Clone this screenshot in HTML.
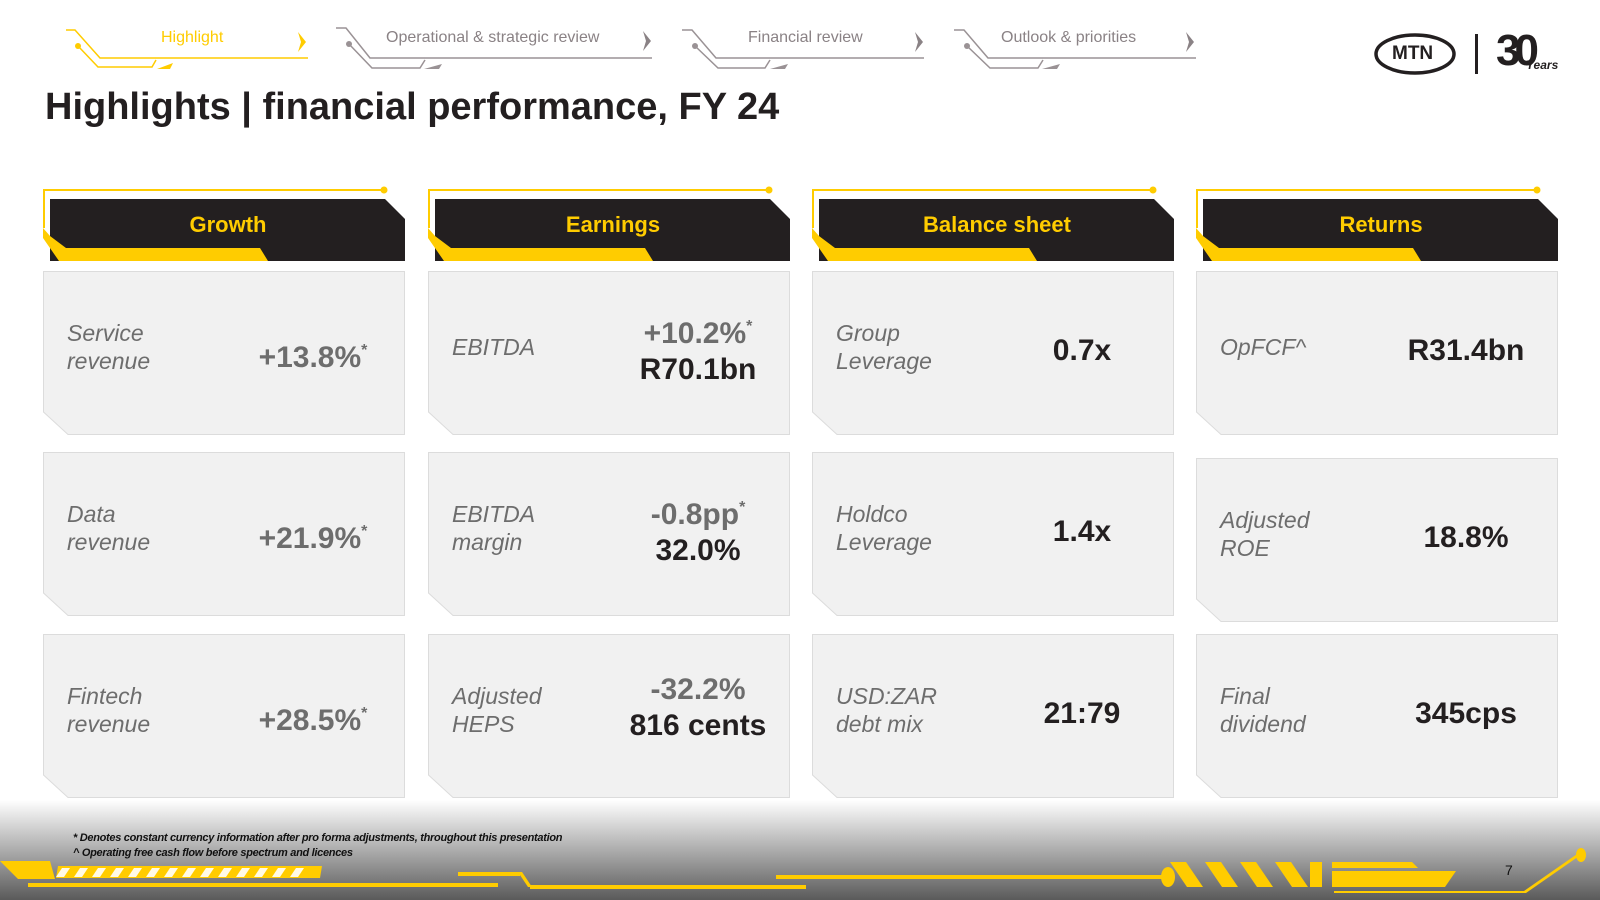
<!DOCTYPE html>
<html><head><meta charset="utf-8">
<style>
*{margin:0;padding:0;box-sizing:border-box}
body{width:1600px;height:900px;overflow:hidden;background:#fff;font-family:"Liberation Sans",sans-serif;position:relative}
.abs{position:absolute}
.title{left:45px;top:86px;font-size:38px;font-weight:bold;color:#231f20;white-space:nowrap}
.nav{font-size:16px;color:#8a8285;white-space:nowrap}
.hdr{font-size:22px;font-weight:bold;color:#ffcc00;text-align:center;width:330px}
.card{position:absolute;width:362px;height:164px}
.card svg{position:absolute;left:0;top:0}
.lbl{position:absolute;left:24px;font-size:23px;font-style:italic;color:#6d6d6d;line-height:28px}
.val{position:absolute;left:190px;width:160px;text-align:center;font-size:30px;font-weight:bold;line-height:36px;color:#231f20;white-space:nowrap}
.g{color:#6d6d6d}
sup{font-size:16px;vertical-align:12px}
.fn{left:73px;font-size:11px;font-style:italic;font-weight:bold;color:#111;letter-spacing:-0.3px;white-space:nowrap}
</style></head><body>
<svg class="abs" style="left:0;top:0" width="1600" height="900">
<defs><linearGradient id="fg" x1="0" y1="0" x2="0" y2="1"><stop offset="0" stop-color="#fff"/><stop offset="1" stop-color="#5a5a5a"/></linearGradient></defs>
<rect x="0" y="800" width="1600" height="100" fill="url(#fg)"/>
<g fill="none" stroke-width="1.5">
<g stroke="#ffcc00"><polyline points="66,30 75,30 100,58 308,58"/><polyline points="78,46 98,67 152,67 156,60"/></g>
<g stroke="#9a9295"><polyline points="336,28 346,28 370,58 652,58"/><polyline points="349,44 372,68 420,68 425,60"/></g>
<g stroke="#9a9295"><polyline points="682,30 692,30 716,58 924,58"/><polyline points="695,46 718,68 765,68 770,60"/></g>
<g stroke="#9a9295"><polyline points="954,30 964,30 988,58 1196,58"/><polyline points="967,46 990,68 1038,68 1043,60"/></g>
</g>
<circle cx="78" cy="46" r="3" fill="#ffcc00"/><circle cx="349" cy="44" r="3" fill="#9a9295"/><circle cx="695" cy="46" r="3" fill="#9a9295"/><circle cx="967" cy="46" r="3" fill="#9a9295"/>
<polygon points="157,69 173,63 170,69 154,69" fill="#ffcc00"/>
<polygon points="424,69 442,64 439,69 421,69" fill="#9a9295"/>
<polygon points="770,69 788,64 785,69 767,69" fill="#9a9295"/>
<polygon points="1042,69 1060,64 1057,69 1039,69" fill="#9a9295"/>
<polygon points="298,32 306,42 298,52 301,42" fill="#ffcc00"/>
<polygon points="643,31 651,41 643,51 646,41" fill="#8a8285"/>
<polygon points="915,32 923,42 915,52 918,42" fill="#8a8285"/>
<polygon points="1186,32 1194,42 1186,52 1189,42" fill="#8a8285"/>
<ellipse cx="1415" cy="54" rx="39" ry="19" fill="none" stroke="#231f20" stroke-width="3.5"/>
<rect x="1475" y="34" width="3" height="40" fill="#231f20"/>
<g fill="#ffcc00">
<polygon points="0,861 50,861 55,879 18,879"/>
<polygon points="58,866 322,866 320,878 56,878"/>
<rect x="28" y="883" width="470" height="4"/>
<rect x="458" y="872" width="62" height="4"/>
<polygon points="518,872 522,872 532,887 528,887"/>
<rect x="530" y="885" width="276" height="4"/>
<rect x="776" y="875" width="392" height="4"/>
<ellipse cx="1168" cy="877" rx="7" ry="10"/>
<polygon points="1170,862 1186,862 1203,887 1187,887"/>
<polygon points="1205,862 1221,862 1238,887 1222,887"/>
<polygon points="1240,862 1256,862 1273,887 1257,887"/>
<polygon points="1275,862 1291,862 1308,887 1292,887"/>
<rect x="1310" y="862" width="12" height="25"/>
<polygon points="1332,862 1412,862 1418,868 1332,868"/>
<polygon points="1332,871 1456,871 1445,887 1332,887"/>
<polygon points="1334,891 1524,891 1580,852 1582,854 1526,893 1334,893"/>
<ellipse cx="1581" cy="855" rx="5" ry="7"/>
</g>
<g fill="#fff" opacity="0.9">
<polygon points="62,868 70,868 64,877 56,877"/><polygon points="80,868 88,868 82,877 74,877"/><polygon points="98,868 106,868 100,877 92,877"/><polygon points="116,868 124,868 118,877 110,877"/><polygon points="134,868 142,868 136,877 128,877"/><polygon points="152,868 160,868 154,877 146,877"/><polygon points="170,868 178,868 172,877 164,877"/><polygon points="188,868 196,868 190,877 182,877"/><polygon points="206,868 214,868 208,877 200,877"/><polygon points="224,868 232,868 226,877 218,877"/><polygon points="242,868 250,868 244,877 236,877"/><polygon points="260,868 268,868 262,877 254,877"/><polygon points="278,868 286,868 280,877 272,877"/><polygon points="296,868 304,868 298,877 290,877"/>
</g>
</svg>

<div class="abs nav" style="left:161px;top:29px;color:#ffcc00">Highlight</div>
<div class="abs nav" style="left:386px;top:29px">Operational &amp; strategic review</div>
<div class="abs nav" style="left:748px;top:29px">Financial review</div>
<div class="abs nav" style="left:1001px;top:29px">Outlook &amp; priorities</div>
<div class="abs" style="left:1392px;top:43px;font-size:19px;font-weight:bold;color:#231f20">MTN</div>
<div class="abs" style="left:1496px;top:26px;font-size:44px;font-weight:bold;color:#231f20;letter-spacing:-6px;line-height:50px">30</div>
<div class="abs" style="left:1526px;top:58px;font-size:12px;font-weight:bold;font-style:italic;color:#231f20">Years</div>

<div class="abs title">Highlights | financial performance, FY 24</div>

<div id="grid"></div>

<div class="abs fn" style="top:832px">* Denotes constant currency information after pro forma adjustments, throughout this presentation</div>
<div class="abs fn" style="top:847px">^ Operating free cash flow before spectrum and licences</div>
<div class="abs" style="left:1505px;top:862px;font-size:14px;color:#111">7</div>

<script>
const colX=[43,428,812,1196];
const headers=["Growth","Earnings","Balance sheet","Returns"];
const rowY=[[271,452,634],[271,452,634],[271,452,634],[271,458,634]];
const labels=[
 ["Service<br>revenue","Data<br>revenue","Fintech<br>revenue"],
 ["EBITDA","EBITDA<br>margin","Adjusted<br>HEPS"],
 ["Group<br>Leverage","Holdco<br>Leverage","USD:ZAR<br>debt mix"],
 ["OpFCF^","Adjusted<br>ROE","Final<br>dividend"]];
const vals=[
 [['<span class="g">+13.8%<sup>*</sup></span>'],['<span class="g">+21.9%<sup>*</sup></span>'],['<span class="g">+28.5%<sup>*</sup></span>']],
 [['<span class="g">+10.2%<sup>*</sup></span>','R70.1bn'],['<span class="g">-0.8pp<sup>*</sup></span>','32.0%'],['<span class="g">-32.2%</span>','816 cents']],
 [['0.7x'],['1.4x'],['21:79']],
 [['R31.4bn'],['18.8%'],['345cps']]];
const grid=document.getElementById('grid');
colX.forEach((x,c)=>{
  const h=document.createElement('div');
  
  
  h.className='abs';
  h.style.cssText=`left:${x}px;top:186px;width:370px;height:80px`;
  h.innerHTML=`<svg width="370" height="80" style="position:absolute;left:0;top:0">
   <polyline points="1,42 1,4 341,4" fill="none" stroke="#ffcc00" stroke-width="2"/>
   <circle cx="341" cy="4" r="3.5" fill="#ffcc00"/>
   <polygon points="7,13 342,13 362,33 362,75 7,75" fill="#231f20"/>
   <polygon points="0,42 7,50 23,62 217,62 225,75 16,75 0,52" fill="#ffcc00"/>
  </svg><div class="abs hdr" style="left:20px;top:26px">${headers[c]}</div>`;
  grid.appendChild(h);
  rowY[c].forEach((y,r)=>{
    const d=document.createElement('div');
    
    
    d.className='card';
    d.style.left=x+'px';d.style.top=y+'px';
    const v=vals[c][r];
    const vTop = v.length===2 ? 74-36 : 62;
    const lblLines=labels[c][r].split('<br>').length;
    d.innerHTML=`<svg width="362" height="164"><polygon points="0.5,0.5 361.5,0.5 361.5,163.5 25,163.5 0.5,141" fill="#f1f1f1" stroke="#dcdcdc"/></svg>
     <div class="lbl" style="top:${76-lblLines*14}px">${labels[c][r]}</div>
     <div class="val" style="top:${vTop}px">${v.join('<br>')}</div>`;
    grid.appendChild(d);
  });
});
</script>
</body></html>
